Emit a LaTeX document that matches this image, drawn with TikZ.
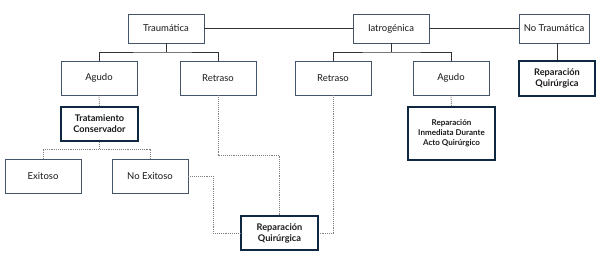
\documentclass[tikz,border=0pt]{standalone}
\usepackage{fontspec}
\setmainfont{Lato}
\usetikzlibrary{calc}
\definecolor{boxcol}{HTML}{44546A}
\definecolor{navy}{HTML}{0E2841}
\definecolor{linecol}{HTML}{333333}
\definecolor{dotcol}{HTML}{808080}
\definecolor{txt}{HTML}{1A1A1A}
\tikzset{
  plain/.style={draw=boxcol, line width=0.8pt, fill=white, minimum width=76pt, minimum height=34pt, inner sep=1pt, align=center, font=\fontsize{9.5}{11}\selectfont, text=txt},
  strong/.style={draw=navy, line width=1.7pt, fill=white, minimum width=77pt, minimum height=34pt, inner sep=1pt, align=center, font=\bfseries\fontsize{9.2}{11}\selectfont, text=txt},
  solidcon/.style={draw=linecol, line width=0.9pt},
  dotcon/.style={draw=dotcol, line width=0.9pt, densely dotted}
}
\begin{document}
\begin{tikzpicture}[x=1pt,y=-1pt]
\useasboundingbox[fill=white] (0,0) rectangle (600,257);
% top row
\node[plain, minimum height=29pt] (tr) at (166,28.5) {Traumática};
\node[plain, minimum height=29pt] (ia) at (391,28.5) {Iatrogénica};
\node[plain, minimum height=29pt, minimum width=70pt] (nt) at (554,28.5) {No Traumática};
% second row
\node[plain] (agL) at (99,78) {Agudo};
\node[plain] (reL) at (218,78) {Retraso};
\node[plain] (reR) at (333,78) {Retraso};
\node[plain] (agR) at (451,78) {Agudo};
\node[strong, minimum width=76pt, minimum height=35pt] (rqr) at (557,78.5) {Reparación\\Quirúrgica};
% third
\node[strong] (tc) at (99.5,124) {Tratamiento\\Conservador};
\node[strong, minimum width=87pt, minimum height=53pt, font=\bfseries\fontsize{8}{10}\selectfont] (ri) at (451.5,133.5) {Reparación\\Inmediata Durante\\Acto Quirúrgico};
\node[plain] (ex) at (43,176) {Exitoso};
\node[plain] (ne) at (150,176) {No Exitoso};
\node[strong] (rqb) at (279.5,233) {Reparación\\Quirúrgica};
% solid connectors
\draw[solidcon] (tr.east) -- (ia.west);
\draw[solidcon] (ia.east) -- (nt.west);
\coordinate (tj) at (166,52);
\coordinate (ij) at (391,52);
\draw[solidcon] (tr.south) -- (tj);
\draw[solidcon] (agL.north) |- (tj) -| (reL.north);
\draw[solidcon] (ia.south) -- (ij);
\draw[solidcon] (reR.north) |- (ij) -| (agR.north);
\draw[solidcon] (rqr.north) -- (rqr.north |- nt.south);
% dotted connectors
\draw[dotcon] (agL.south) -- (tc.north);
\coordinate (cj) at (99.5,149);
\draw[dotcon] (tc.south) -- (cj);
\draw[dotcon] (ex.north) |- (cj) -| (ne.north);
\coordinate (c1) at (213,176);
\draw[dotcon] (ne.east) -- (c1) |- (rqb.west);
\draw[dotcon] (reL.south) |- (rqb.north |- 0,155) -- (rqb.north);
\draw[dotcon] (reR.south) |- (rqb.east);
\draw[dotcon] (agR.south) -- (ri.north);
\end{tikzpicture}
\end{document}
